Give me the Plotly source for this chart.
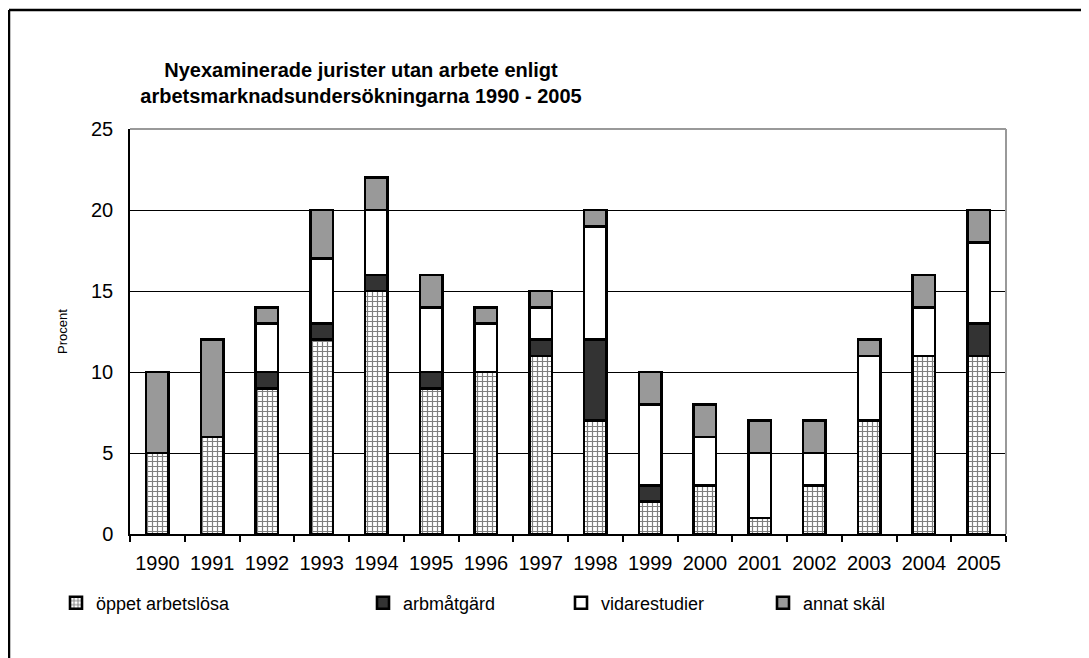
import plotly.graph_objects as go

years = ["1990", "1991", "1992", "1993", "1994", "1995", "1996", "1997",
         "1998", "1999", "2000", "2001", "2002", "2003", "2004", "2005"]
oppet = [5, 6, 9, 12, 15, 9, 10, 11, 7, 2, 3, 1, 3, 7, 11, 11]
arbmatgard = [0, 0, 1, 1, 1, 1, 0, 1, 5, 1, 0, 0, 0, 0, 0, 2]
vidarestudier = [0, 0, 3, 4, 4, 4, 3, 2, 7, 5, 3, 4, 2, 4, 3, 5]
annat = [5, 6, 1, 3, 2, 2, 1, 1, 1, 2, 2, 2, 2, 1, 2, 2]
series_names = ["öppet arbetslösa", "arbmåtgärd", "vidarestudier", "annat skäl"]
y_ticks = [0, 5, 10, 15, 20, 25]

FONT = "Liberation Sans, Arial, sans-serif"
line = dict(color="black", width=2.6)

fig = go.Figure()
fig.add_trace(go.Bar(
    x=years, y=oppet, name=series_names[0], legend="legend",
    marker=dict(color="white", line=line,
                pattern=dict(shape="+", size=5, solidity=0.42,
                             fgcolor="black", bgcolor="white", fillmode="overlay")),
))
fig.add_trace(go.Bar(
    x=years, y=arbmatgard, name=series_names[1], legend="legend2",
    marker=dict(color="#333333", line=line),
))
fig.add_trace(go.Bar(
    x=years, y=vidarestudier, name=series_names[2], legend="legend3",
    marker=dict(color="white", line=line),
))
fig.add_trace(go.Bar(
    x=years, y=annat, name=series_names[3], legend="legend4",
    marker=dict(color="#999999", line=line),
))

W, H = 1081, 650  # page body adds an 8px offset
L, T = 122, 121
PR, PB = 998, 526
R, B = W - PR, H - PB
pw, ph = PR - L, PB - T


def px_x(px):
    return (px - L) / pw


def px_y(py):
    return (PB - py) / ph


leg_common = dict(orientation="h", yanchor="middle", y=px_y(595), xanchor="left",
                  font=dict(family=FONT, size=18, color="black"),
                  bgcolor="rgba(0,0,0,0)", itemwidth=30)

fig.update_layout(
    width=W, height=H,
    margin=dict(l=L, r=R, t=T, b=B),
    paper_bgcolor="white", plot_bgcolor="white",
    barmode="stack", bargap=0.59, showlegend=True,
    font=dict(family=FONT, color="black"),
    title=dict(
        text="Nyexaminerade jurister utan arbete enligt<br>arbetsmarknadsundersökningarna 1990 - 2005",
        font=dict(family=FONT, size=20, color="black", weight="bold"),
        x=353 / W, xanchor="center", xref="container",
        y=1 - 69 / H, yanchor="top", yref="container",
    ),
    xaxis=dict(
        type="category", tickson="boundaries", ticks="outside", ticklen=6,
        tickcolor="black", tickwidth=1.5, showline=True, linecolor="black",
        linewidth=1.5, showgrid=False, ticklabelstandoff=10,
        tickfont=dict(family=FONT, size=20, color="black"),
    ),
    yaxis=dict(
        range=[0, 25], tickvals=y_ticks, ticks="", showline=True,
        linecolor="black", linewidth=1.5, showgrid=True, gridcolor="black",
        gridwidth=1, zeroline=False, ticklabelstandoff=11,
        tickfont=dict(family=FONT, size=20, color="black"),
        title=dict(text="Procent", font=dict(family=FONT, size=13, color="black"),
                   standoff=20),
    ),
    legend=dict(x=px_x(48), **leg_common),
    legend2=dict(x=px_x(355), **leg_common),
    legend3=dict(x=px_x(553), **leg_common),
    legend4=dict(x=px_x(755), **leg_common),
    shapes=[
        # outer frame (left and top edges visible)
        dict(type="line", xref="paper", yref="paper", x0=px_x(1), x1=px_x(W + 20),
             y0=px_y(2), y1=px_y(2), line=dict(color="black", width=2.5)),
        dict(type="line", xref="paper", yref="paper", x0=px_x(1), x1=px_x(1),
             y0=px_y(2), y1=px_y(H + 20), line=dict(color="black", width=2.5)),
        # plot-area border top and right (grey)
        dict(type="line", xref="paper", yref="paper", x0=0, x1=1, y0=1, y1=1,
             line=dict(color="#999999", width=2)),
        dict(type="line", xref="paper", yref="paper", x0=1, x1=1, y0=0, y1=1,
             line=dict(color="#999999", width=2)),
    ],
)

fig.write_html("out.html")
